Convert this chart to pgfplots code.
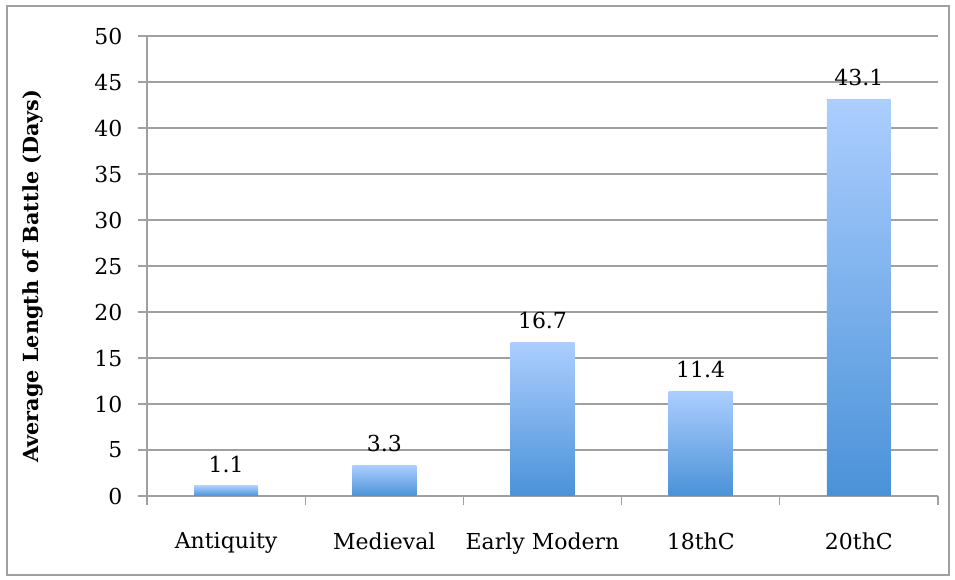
\documentclass[border=0pt]{standalone}
\usepackage{pgfplots}
\pgfplotsset{compat=1.18}
\usepackage{fontspec}
\setmainfont{DejaVu Serif}
\definecolor{gridgray}{RGB}{160,160,160}
\definecolor{bartop}{RGB}{172,206,255}
\definecolor{barbot}{RGB}{74,146,216}
\pgfplotsset{onebar/.style={ybar, bar width=64pt, bar shift=0pt, draw=none, shade, top color=bartop, bottom color=barbot}}
\begin{document}
\begin{tikzpicture}
\begin{axis}[
  width=791pt, height=460pt, scale only axis,
  xmin=-0.5, xmax=4.5, ymin=0, ymax=50,
  ytick={0,5,...,50},
  xtick={0,1,2,3,4},
  xticklabels={Antiquity,Medieval,Early Modern,18thC,20thC},
  minor xtick={-0.5,0.5,1.5,2.5,3.5,4.5},
  major x tick style={draw=none},
  minor tick length=9pt, major tick length=9pt,
  tick align=outside,
  xtick pos=bottom, ytick pos=left,
  ymajorgrids,
  grid style={gridgray, line width=1.2pt},
  axis line style={gridgray, line width=1.2pt},
  tick style={gridgray, line width=1.2pt},
  axis x line*=bottom, axis y line*=left,
  /pgf/number format/assume math mode=true,
  ticklabel style={font=\fontsize{22}{26}\selectfont, text=black},
  xticklabel style={yshift=-24pt},
  yticklabel style={xshift=-12pt},
  ylabel={\textbf{Average Length of Battle (Days)}},
  ylabel style={font=\fontsize{20.8}{24}\selectfont, at={(axis description cs:-0.144,0.478)}, anchor=center},
  nodes near coords,
  nodes near coords style={font=\fontsize{22}{26}\selectfont, text=black, /pgf/number format/fixed, /pgf/number format/precision=1, /pgf/number format/fixed zerofill, /pgf/number format/assume math mode=true, yshift=10pt},
  clip=false,
]
\addplot[onebar] coordinates {(0,1.1)};
\addplot[onebar] coordinates {(1,3.3)};
\addplot[onebar] coordinates {(2,16.7)};
\addplot[onebar] coordinates {(3,11.4)};
\addplot[onebar] coordinates {(4,43.1)};
\end{axis}
\path[use as bounding box] (-147pt,-84pt) rectangle (808pt,496pt);
\draw[gridgray, line width=1.2pt] (-140pt,-79pt) rectangle (802pt,490pt);
\end{tikzpicture}
\end{document}
